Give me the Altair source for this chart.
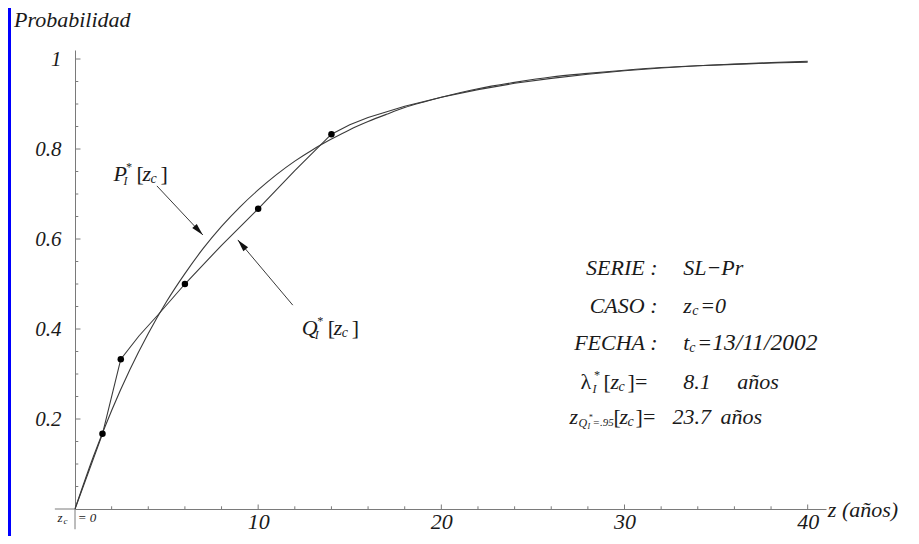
import altair as alt
import pandas as pd

# ---- data ----
p_z = [0, 1, 2, 3, 4, 5, 6, 7, 8, 9, 10, 11, 12, 13, 14, 15, 16, 17, 18, 19, 20,
       22, 24, 26, 28, 30, 32, 34, 36, 38, 40]
p_val = [0, 0.116, 0.219, 0.310, 0.390, 0.461, 0.523, 0.579, 0.628, 0.671, 0.709,
         0.743, 0.773, 0.799, 0.822, 0.843, 0.861, 0.877, 0.892, 0.904, 0.915,
         0.934, 0.948, 0.960, 0.968, 0.975, 0.981, 0.985, 0.988, 0.991, 0.993]

q_z = [0, 1.5, 2.5, 3.5, 4.5, 6, 8, 10, 12, 14, 15, 16, 18, 20, 22, 24, 26, 28,
       30, 32, 34, 36, 38, 40]
q_val = [0, 0.167, 0.333, 0.385, 0.430, 0.5, 0.586, 0.667, 0.752, 0.833, 0.854,
         0.870, 0.895, 0.915, 0.932, 0.946, 0.957, 0.966, 0.974, 0.980, 0.985,
         0.989, 0.992, 0.995]

pts_z = [1.5, 2.5, 6, 10, 14]
pts_val = [0.167, 0.333, 0.5, 0.667, 0.833]

x_major = [10, 20, 30, 40]
x_minor = [2, 4, 6, 8, 12, 14, 16, 18, 22, 24, 26, 28, 32, 34, 36, 38]
y_major = [0.2, 0.4, 0.6, 0.8, 1.0]
y_minor = [0.05, 0.1, 0.15, 0.25, 0.3, 0.35, 0.45, 0.5, 0.55, 0.65, 0.7, 0.75,
           0.85, 0.9, 0.95]

FONT = "Liberation Serif, DejaVu Serif, serif"
INK = "#1a1a1a"
LINE = "#3a3a3a"
AXC = "#7a7a7a"

xs = alt.Scale(domain=[0, 41], nice=False, zero=False)
ys = alt.Scale(domain=[0, 1.02], nice=False, zero=False)
xaxis = alt.Axis(values=x_major, ticks=False, grid=False, domainColor=AXC,
                 labelFont=FONT, labelFontStyle="italic", labelFontSize=22,
                 labelColor=INK, labelPadding=2, title=None, labelFlush=False)
yaxis = alt.Axis(values=y_major, ticks=False, grid=False, domainColor=AXC,
                 labelFont=FONT, labelFontStyle="italic", labelFontSize=21,
                 labelColor=INK, labelPadding=14, title=None,
                 labelExpr="datum.value == 1 ? '1' : format(datum.value, '.1f')")


def X(f="x"):
    return alt.X(f, type="quantitative", scale=xs, axis=xaxis)


def Y(f="y"):
    return alt.Y(f, type="quantitative", scale=ys, axis=yaxis)


layers = []

# curves
pdf = pd.DataFrame({"x": p_z, "y": p_val})
qdf = pd.DataFrame({"x": q_z, "y": q_val})
layers.append(alt.Chart(pdf).mark_line(color=LINE, strokeWidth=1.1, interpolate="monotone")
              .encode(x=X(), y=Y()))
layers.append(alt.Chart(qdf).mark_line(color=LINE, strokeWidth=1.1, interpolate="linear")
              .encode(x=X(), y=Y()))
layers.append(alt.Chart(pd.DataFrame({"x": pts_z, "y": pts_val}))
              .mark_circle(color="black", opacity=1, size=42).encode(x=X(), y=Y()))

# ticks (drawn inward like the reference)
xt = pd.DataFrame({"x": x_major + x_minor,
                   "y": [0] * (len(x_major) + len(x_minor)),
                   "y2": [0.010] * len(x_major) + [0.006] * len(x_minor)})
layers.append(alt.Chart(xt).mark_rule(color=AXC, strokeWidth=1)
              .encode(x=X(), y=Y(), y2="y2:Q"))
yt = pd.DataFrame({"y": y_major + y_minor,
                   "x": [0] * (len(y_major) + len(y_minor)),
                   "x2": [0.30] * len(y_major) + [0.18] * len(y_minor)})
layers.append(alt.Chart(yt).mark_rule(color=AXC, strokeWidth=1)
              .encode(x=X(), x2="x2:Q", y=Y()))
# axis extensions beyond origin
layers.append(alt.Chart(pd.DataFrame({"x": [-1.1], "x2": [0], "y": [0]}))
              .mark_rule(color=AXC, strokeWidth=1).encode(x=X(), x2="x2:Q", y=Y()))
layers.append(alt.Chart(pd.DataFrame({"x": [0], "y": [-0.045], "y2": [0]}))
              .mark_rule(color=AXC, strokeWidth=1).encode(x=X(), y=Y(), y2="y2:Q"))

# arrows (annotation pointers)
arrows = pd.DataFrame({"x": [4.47, 6.98, 11.89, 8.89],
                       "y": [0.718, 0.609, 0.453, 0.598],
                       "g": ["p", "p", "q", "q"]})
layers.append(alt.Chart(arrows).mark_line(color=LINE, strokeWidth=1)
              .encode(x=X(), y=Y(), detail="g:N"))
heads = pd.DataFrame({"x": [6.98, 8.89], "y": [0.609, 0.598], "a": [137, 320]})
layers.append(alt.Chart(heads).mark_point(shape="M0,0 L0.5,2 L-0.5,2 Z", filled=True,
                                          color="#111", opacity=1, size=150)
              .encode(x=X(), y=Y(), angle=alt.Angle("a:Q", scale=None)))


def txt(x, y, s, size=22, dx=0, dy=0, align="left", style="italic", base="middle"):
    d = pd.DataFrame({"x": [x], "y": [y], "t": [s]})
    return (alt.Chart(d).mark_text(font=FONT, fontStyle=style, fontSize=size,
                                   color=INK, align=align, baseline=base,
                                   dx=dx, dy=dy)
            .encode(x=X(), y=Y(), text="t:N"))


# titles
layers.append(txt(-3.33, 1.071, "Probabilidad", size=22, base="alphabetic"))
layers.append(txt(41.1, 0.0, "z (años)", size=22, dy=1))

# origin label  z_c = 0
layers.append(txt(-0.95, -0.02, "z", size=13))
layers.append(txt(-0.95, -0.02, "c", size=9, dx=6, dy=3))
layers.append(txt(0.15, -0.02, "= 0", size=13))

# P*_I[z_c] label
bx, by = 2.1, 0.745
layers += [txt(bx, by, "P", 22), txt(bx, by, "*", 12, dx=12, dy=-7),
           txt(bx, by, "I", 12, dx=10, dy=7), txt(bx, by, "[", 22, dx=23, style="normal"),
           txt(bx, by, "z", 22, dx=29), txt(bx, by, "c", 14, dx=37, dy=5),
           txt(bx, by, "]", 22, dx=47, style="normal")]
# Q*_I[z_c] label
bx, by = 12.38, 0.402
layers += [txt(bx, by, "Q", 22), txt(bx, by, "*", 12, dx=15, dy=-7),
           txt(bx, by, "I", 12, dx=13, dy=7), txt(bx, by, "[", 22, dx=26, style="normal"),
           txt(bx, by, "z", 22, dx=32), txt(bx, by, "c", 14, dx=40, dy=5),
           txt(bx, by, "]", 22, dx=50, style="normal")]

# info block
LX, VX = 31.8, 33.2
rows_y = [0.536, 0.451, 0.369, 0.282, 0.204]
layers.append(txt(LX, rows_y[0], "SERIE :", align="right"))
layers.append(txt(VX, rows_y[0], "SL−Pr"))
layers.append(txt(LX, rows_y[1], "CASO :", align="right"))
layers += [txt(VX, rows_y[1], "z"), txt(VX, rows_y[1], "c", 14, dx=9, dy=5),
           txt(VX, rows_y[1], "=0", dx=17)]
layers.append(txt(LX, rows_y[2], "FECHA :", align="right"))
layers += [txt(VX, rows_y[2], "t"), txt(VX, rows_y[2], "c", 14, dx=6, dy=5),
           txt(VX, rows_y[2], "=", dx=14), txt(VX, rows_y[2], "13/11/2002", 23.5, dx=29)]
lx = 27.6
yy = rows_y[3]
layers += [txt(lx, yy, "λ", style="normal"), txt(lx, yy, "*", 12, dx=13, dy=-7),
           txt(lx, yy, "I", 12, dx=12, dy=7), txt(lx, yy, "[", 22, dx=23, style="normal"),
           txt(lx, yy, "z", 22, dx=30), txt(lx, yy, "c", 14, dx=38, dy=5),
           txt(lx, yy, "]=", 22, dx=47, style="normal")]
layers += [txt(VX, yy, "8.1"), txt(VX, yy, "años", dx=54)]
lx = 27.0
yy = rows_y[4]
layers += [txt(lx, yy, "z", 22), txt(lx, yy, "Q", 12, dx=9, dy=6),
           txt(lx, yy, "*", 8, dx=19, dy=1), txt(lx, yy, "I", 8, dx=18, dy=10),
           txt(lx, yy, "=.95", 11, dx=23, dy=6),
           txt(lx, yy, "[", 22, dx=44, style="normal"),
           txt(lx, yy, "z", 22, dx=50), txt(lx, yy, "c", 14, dx=58, dy=5),
           txt(lx, yy, "]=", 22, dx=66, style="normal"),
           txt(lx, yy, "23.7", 22, dx=103), txt(lx, yy, "años", 22, dx=151)]

# blue frame strip on the left edge
layers.append(alt.Chart(pd.DataFrame({"x": [0]})).mark_rect(color="#0000ff")
              .encode(x=alt.value(-67), x2=alt.value(-64), y=alt.value(-44), y2=alt.value(486)))

chart = alt.layer(*layers).properties(
    width=751, height=459,
    padding={"left": 67, "top": 42, "right": 85, "bottom": 27},
    autosize=alt.AutoSizeParams(type="none"),
    background="white",
).configure_view(stroke=None)

chart.save("out.html", embed_options={"renderer": "svg", "actions": False})
